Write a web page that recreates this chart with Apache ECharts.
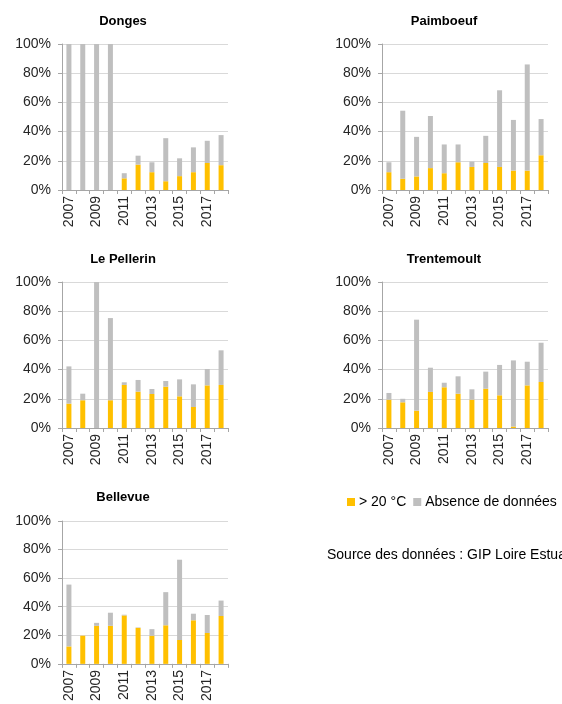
<!DOCTYPE html>
<html>
<head>
<meta charset="utf-8">
<script src="https://cdn.jsdelivr.net/npm/echarts@6/dist/echarts.min.js"></script>
<style>
  html, body { margin: 0; padding: 0; background: #fff; }
  #chart { width: 562px; height: 704px; }
</style>
</head>
<body>
<div id="chart"></div>
<script>
var years = ['2007','2008','2009','2010','2011','2012','2013','2014','2015','2016','2017','2018'];
var yTicks = [0, 20, 40, 60, 80, 100];

// part > 20 °C (jaune) et total (jaune + absence de données)
var dongesHot    = [0, 0, 0, 0, 8, 17.4, 12.2, 6, 9.5, 12.2, 18.5, 17];
var dongesTotal  = [100, 100, 100, 100, 11.5, 23.5, 19, 35.5, 21.7, 29.2, 33.7, 37.6];
var paimHot      = [12.2, 7.7, 9.3, 15, 11.5, 19, 15.8, 18.5, 15.8, 13.3, 13.3, 23.8];
var paimTotal    = [19, 54.3, 36.4, 50.7, 31.2, 31.2, 19.5, 37.1, 68.3, 48, 86, 48.6];
var pellHot      = [16.7, 19, 0, 19, 29.5, 24.9, 23.3, 28.3, 21.7, 14.4, 29.2, 29.5];
var pellTotal    = [42.2, 23.5, 100, 75.3, 31.3, 32.9, 26.7, 32.2, 33.3, 29.9, 40.4, 53.2];
var trentHot     = [19.4, 17.6, 11.9, 24.7, 27.9, 23.5, 19.4, 26.9, 22.4, 1, 29.2, 31.5];
var trentTotal   = [24, 20, 74.2, 41.3, 31, 35.4, 26.5, 38.6, 43.2, 46.3, 45.4, 58.4];
var belleHot     = [12.2, 19.7, 26.6, 26.6, 33.9, 25.2, 19.7, 27, 16.7, 30.5, 21.6, 33.5];
var belleTotal   = [55.5, 19.7, 28.7, 35.8, 34.4, 25.5, 24.3, 50.2, 72.9, 35.1, 34.2, 44.3];

var stations = ['Donges', 'Paimboeuf', 'Le Pellerin', 'Trentemoult', 'Bellevue'];
var hotSets = [dongesHot, paimHot, pellHot, trentHot, belleHot];
var totalSets = [dongesTotal, paimTotal, pellTotal, trentTotal, belleTotal];

var YELLOW = '#FFC000', GREY = '#BFBFBF';
var FONT = 'Liberation Sans, Arial, sans-serif';

var boxes = [
  {left: 62,  top: 44,  title: [123, 21]},
  {left: 382, top: 44,  title: [444, 21]},
  {left: 62,  top: 282, title: [123, 259]},
  {left: 382, top: 282, title: [444, 259]},
  {left: 62,  top: 521, title: [123, 497]}
];

var grids = [], xAxes = [], yAxes = [], series = [], graphics = [];
boxes.forEach(function(b, i) {
  grids.push({left: b.left, top: b.top, width: 166, height: 146});
  xAxes.push({
    type: 'category', gridIndex: i, data: years,
    axisLine: {lineStyle: {color: '#A6A6A6'}},
    axisTick: {show: true, length: 4, interval: 0, lineStyle: {color: '#A6A6A6'}},
    axisLabel: {rotate: 90, interval: 1, margin: 6, color: '#262626', fontSize: 14, fontFamily: FONT}
  });
  yAxes.push({
    type: 'value', gridIndex: i, min: yTicks[0], max: yTicks[yTicks.length - 1], interval: 20,
    axisLine: {show: true, lineStyle: {color: '#A6A6A6'}},
    axisTick: {show: true, length: 4, lineStyle: {color: '#A6A6A6'}},
    splitLine: {lineStyle: {color: '#D9D9D9'}},
    axisLabel: {formatter: '{value}%', margin: 11, color: '#262626', fontSize: 14, fontFamily: FONT}
  });
  var hot = hotSets[i];
  var missing = totalSets[i].map(function(t, k) { return +(t - hot[k]).toFixed(1); });
  series.push({
    name: '> 20 °C', type: 'bar', stack: 's' + i, xAxisIndex: i, yAxisIndex: i,
    barWidth: 5, itemStyle: {color: YELLOW}, data: hot
  });
  series.push({
    name: 'Absence de données', type: 'bar', stack: 's' + i, xAxisIndex: i, yAxisIndex: i,
    barWidth: 5, itemStyle: {color: GREY}, data: missing
  });
  graphics.push({
    type: 'text', x: b.title[0], y: b.title[1],
    style: {text: stations[i], font: 'bold 13px ' + FONT, fill: '#000', align: 'center', verticalAlign: 'middle'}
  });
});

graphics.push({
  type: 'text', x: 327, y: 555,
  style: {text: 'Source des données : GIP Loire Estuaire', font: '14px ' + FONT, fill: '#000', verticalAlign: 'middle'}
});

var myChart = echarts.init(document.getElementById('chart'));
var option = {
  animation: false,
  textStyle: {fontFamily: FONT},
  grid: grids,
  xAxis: xAxes,
  yAxis: yAxes,
  legend: {
    left: 342, top: 490,
    itemWidth: 8, itemHeight: 8, itemGap: 7,
    icon: 'rect',
    textStyle: {fontSize: 14, color: '#000', fontFamily: FONT, padding: [0, 0, 0, -1]},
    data: ['> 20 °C', 'Absence de données']
  },
  graphic: graphics,
  series: series
};
myChart.setOption(option);
</script>
</body>
</html>
